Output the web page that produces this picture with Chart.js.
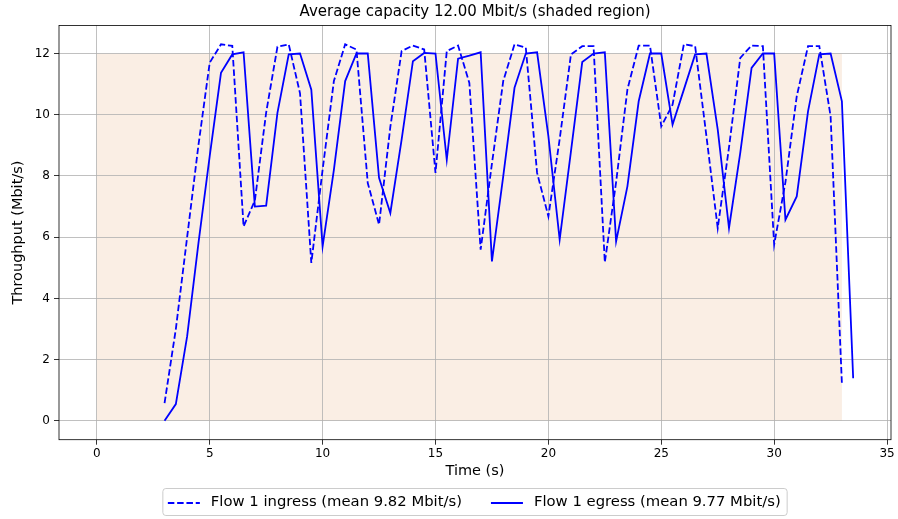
<!DOCTYPE html>
<html>
<head>
<meta charset="utf-8">
<script src="https://cdn.jsdelivr.net/npm/chart.js"></script>
<style>
  html, body { margin: 0; padding: 0; background: #ffffff; }
</style>
</head>
<body>
<canvas id="throughputChart" width="898" height="519"></canvas>
<script>
    // throughput samples, one every 0.5 s
    const ingressTimes = [3, 3.5, 4, 4.5, 5, 5.5, 6, 6.5, 7, 7.5, 8, 8.5, 9, 9.5, 10, 10.5, 11, 11.5, 12, 12.5,
        13, 13.5, 14, 14.5, 15, 15.5, 16, 16.5, 17, 17.5, 18, 18.5, 19, 19.5, 20, 20.5, 21, 21.5, 22, 22.5,
        23, 23.5, 24, 24.5, 25, 25.5, 26, 26.5, 27, 27.5, 28, 28.5, 29, 29.5, 30, 30.5, 31, 31.5, 32, 32.5, 33];
    const ingressValues = [0.58, 3.0, 6.0, 9.0, 11.7, 12.3, 12.25, 6.35, 7.2, 10.07, 12.22, 12.3, 10.7, 5.16, 8.2, 11.1, 12.3, 12.13, 7.77, 6.41,
        9.6, 12.08, 12.26, 12.13, 8.1, 12.08, 12.26, 11.04, 5.59, 8.4, 11.1, 12.3, 12.19, 8.1, 6.68, 9.2, 11.97, 12.24, 12.24, 5.18,
        7.8, 10.82, 12.26, 12.26, 9.62, 10.33, 12.3, 12.24, 9.3, 6.3, 8.93, 11.86, 12.26, 12.24, 5.76, 7.8, 10.6, 12.24, 12.24, 9.95, 1.23];

    const egressTimes = [3, 3.5, 4, 4.5, 5, 5.5, 6, 6.5, 7, 7.5, 8, 8.5, 9, 9.5, 10, 10.5, 11, 11.5, 12, 12.5,
        13, 13.5, 14, 14.5, 15, 15.5, 16, 16.5, 17, 17.5, 18, 18.5, 19, 19.5, 20, 20.5, 21, 21.5, 22, 22.5,
        23, 23.5, 24, 24.5, 25, 25.5, 26, 26.5, 27, 27.5, 28, 28.5, 29, 29.5, 30, 30.5, 31, 31.5, 32, 32.5, 33, 33.5];
    const egressValues = [0, 0.55, 2.76, 5.8, 8.65, 11.37, 11.97, 12.04, 7.0, 7.03, 10.06, 11.97, 12.0, 10.82, 5.7, 8.2, 11.1, 12.0, 12.0, 7.94,
        6.79, 9.19, 11.75, 12.02, 12.0, 8.53, 11.83, 11.93, 12.04, 5.21, 7.99, 10.88, 12.0, 12.04, 9.3, 5.92, 8.8, 11.72, 12.0, 12.04,
        5.86, 7.66, 10.44, 12.0, 12.0, 9.68, 10.82, 11.97, 12.0, 9.52, 6.3, 8.76, 11.53, 12.0, 12.0, 6.57, 7.33, 10.11, 11.97, 12.0, 10.44, 1.39];

    const xTicks = [0, 5, 10, 15, 20, 25, 30, 35];
    const yTicks = [0, 2, 4, 6, 8, 10, 12];
    const capacity = 12;
    const capacityStart = 0;
    const capacityEnd = 33;

    const toPoints = (xs, ys) => xs.map((x, i) => ({ x: x, y: ys[i] }));

    Chart.defaults.font.family = "'DejaVu Sans', sans-serif";
    Chart.defaults.color = '#000';

    // shaded capacity region, painted under the grid
    const shadePlugin = {
        id: 'shade',
        beforeDraw(chart) {
            const { ctx, scales } = chart;
            const x0 = scales.x.getPixelForValue(capacityStart);
            const x1 = scales.x.getPixelForValue(capacityEnd);
            const y0 = scales.y.getPixelForValue(capacity);
            const y1 = scales.y.getPixelForValue(0);
            ctx.save();
            ctx.fillStyle = '#faeee4';
            ctx.fillRect(x0, y0, x1 - x0, y1 - y0);
            ctx.restore();
        }
    };

    // axes frame plus a matplotlib-like legend box under the x axis
    const framePlugin = {
        id: 'frame',
        afterDraw(chart) {
            const { ctx, chartArea } = chart;
            ctx.save();
            ctx.strokeStyle = '#000';
            ctx.lineWidth = 0.8;
            ctx.strokeRect(chartArea.left, chartArea.top, chartArea.right - chartArea.left, chartArea.bottom - chartArea.top);

            ctx.font = "14.8px 'DejaVu Sans', sans-serif";
            const sets = chart.data.datasets;
            const widths = sets.map(ds => 43 + ctx.measureText(ds.label).width);
            const inner = widths.reduce((a, b) => a + b, 0) + 29 * (sets.length - 1);
            const boxW = inner + 11.5;
            const cx = (chartArea.left + chartArea.right) / 2;
            const cy = 502;
            const boxLeft = cx - boxW / 2;

            ctx.strokeStyle = '#cccccc';
            ctx.lineWidth = 1;
            ctx.beginPath();
            ctx.roundRect(boxLeft, cy - 13.5, boxW, 27, 3);
            ctx.stroke();

            let x = boxLeft + 5;
            sets.forEach((ds, i) => {
                ctx.strokeStyle = ds.borderColor;
                ctx.lineWidth = ds.borderWidth;
                ctx.setLineDash(ds.borderDash || []);
                ctx.beginPath();
                ctx.moveTo(x, cy + 1);
                ctx.lineTo(x + 32, cy + 1);
                ctx.stroke();
                ctx.setLineDash([]);
                ctx.fillStyle = '#000';
                ctx.textBaseline = 'middle';
                ctx.textAlign = 'left';
                ctx.fillText(ds.label, x + 43, cy);
                x += widths[i] + 29;
            });
            ctx.restore();
        }
    };

    const ctx = document.getElementById('throughputChart').getContext('2d');

    new Chart(ctx, {
        type: 'line',
        data: {
            datasets: [{
                label: 'Flow 1 ingress (mean 9.82 Mbit/s)',
                data: toPoints(ingressTimes, ingressValues),
                borderColor: '#0000ff',
                backgroundColor: '#0000ff',
                borderWidth: 1.8,
                borderDash: [6.5, 2.8],
                pointRadius: 0,
                tension: 0
            }, {
                label: 'Flow 1 egress (mean 9.77 Mbit/s)',
                data: toPoints(egressTimes, egressValues),
                borderColor: '#0000ff',
                backgroundColor: '#0000ff',
                borderWidth: 1.8,
                pointRadius: 0,
                tension: 0
            }]
        },
        options: {
            responsive: false,
            animation: false,
            devicePixelRatio: 1,
            layout: { padding: { left: 0, right: 7, top: 0, bottom: 54.3 } },
            scales: {
                x: {
                    type: 'linear',
                    min: -1.675,
                    max: 35.175,
                    afterBuildTicks: (scale) => { scale.ticks = xTicks.map(v => ({ value: v })); },
                    afterFit: (scale) => { scale.height = 25; },
                    ticks: { font: { size: 12 }, padding: 2, maxRotation: 0 },
                    grid: { color: '#b0b0b0', lineWidth: 0.8, tickLength: 5, tickColor: '#000' },
                    border: { display: false },
                    title: { display: true, text: 'Time (s)', font: { size: 14.5 }, padding: { top: 0, bottom: -15 } }
                },
                y: {
                    type: 'linear',
                    min: -0.615,
                    max: 12.915,
                    afterBuildTicks: (scale) => { scale.ticks = yTicks.map(v => ({ value: v })); },
                    afterFit: (scale) => { scale.width = 59; },
                    ticks: { font: { size: 12 }, padding: 4 },
                    grid: { color: '#b0b0b0', lineWidth: 0.8, tickLength: 5, tickColor: '#000' },
                    border: { display: false },
                    title: { display: true, text: 'Throughput (Mbit/s)', font: { size: 14.5 }, padding: { top: 10, bottom: 0 } }
                }
            },
            plugins: {
                title: {
                    display: true,
                    fullSize: false,
                    text: 'Average capacity 12.00 Mbit/s (shaded region)',
                    font: { size: 15, weight: 'normal' },
                    padding: { top: 3.5, bottom: 4 }
                },
                legend: { display: false },
                tooltip: { enabled: false }
            }
        },
        plugins: [shadePlugin, framePlugin]
    });
</script>
</body>
</html>
